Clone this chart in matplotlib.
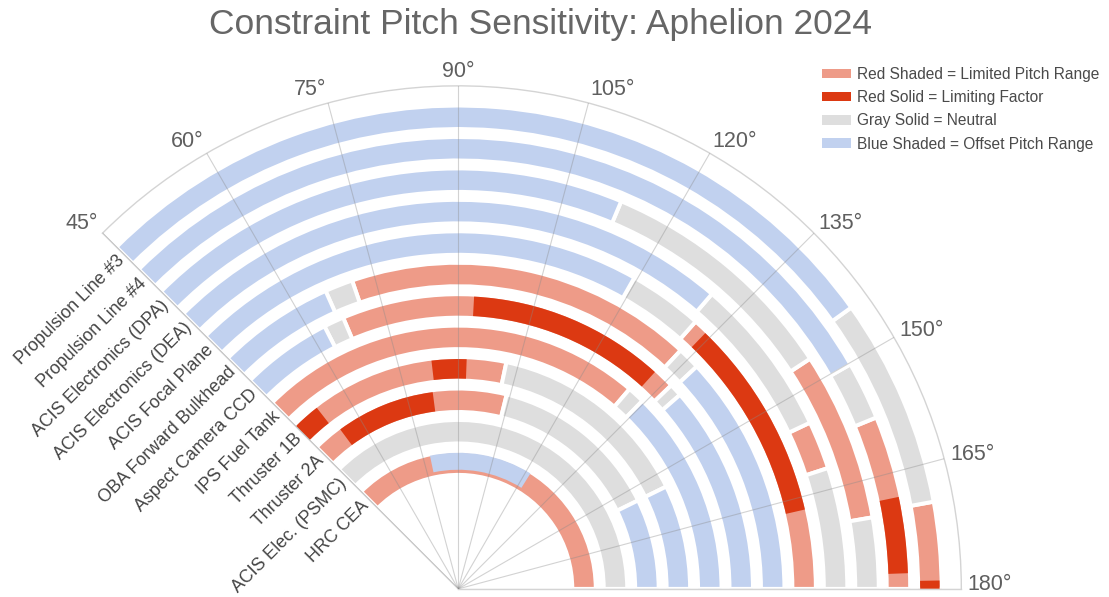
"""Constraint pitch sensitivity chart (Aphelion 2024), polar bar version."""

import numpy as np
import matplotlib
matplotlib.use("Agg")
from matplotlib import pyplot as plt
from matplotlib.patches import Patch
from matplotlib.transforms import offset_copy

plt.rcParams["font.family"] = ["Liberation Sans", "DejaVu Sans"]

# components, innermost ring first
COMPONENTS = [
    "HRC CEA",
    "ACIS Elec. (PSMC)",
    "Thruster 2A",
    "Thruster 1B",
    "IPS Fuel Tank",
    "Aspect Camera CCD",
    "OBA Forward Bulkhead",
    "ACIS Focal Plane",
    "ACIS Electronics (DEA)",
    "ACIS Electronics (DPA)",
    "Propulsion Line #4",
    "Propulsion Line #3",
]

# (component, pitch start, pitch end) in degrees
RED_SHADED = [
    ("HRC CEA", 45, 180),
    ("Thruster 2A", 45, 104),
    ("Thruster 1B", 45, 102),
    ("IPS Fuel Tank", 45, 130.6),
    ("Aspect Camera CCD", 67, 136.3),
    ("OBA Forward Bulkhead", 71, 133),
    ("ACIS Focal Plane", 131.6, 180),
    ("ACIS Electronics (DEA)", 154.7, 161.9),
    ("ACIS Electronics (DPA)", 146.8, 170.2),
    ("Propulsion Line #4", 157.7, 180),
    ("Propulsion Line #3", 169.6, 180),
]
RED_SOLID = [
    ("Thruster 2A", 53.5, 82.6),
    ("Thruster 1B", 45, 52),
    ("Thruster 1B", 83.3, 92.1),
    ("Aspect Camera CCD", 93.1, 132.2),
    ("ACIS Focal Plane", 134, 167.1),
    ("Propulsion Line #4", 168.2, 178),
    ("Propulsion Line #3", 179, 180),
]
GRAY_SOLID = [
    ("ACIS Elec. (PSMC)", 45, 180),
    ("Thruster 2A", 104, 153.8),
    ("Thruster 1B", 102, 153.8),
    ("IPS Fuel Tank", 130.6, 134.4),
    ("Aspect Camera CCD", 63, 67),
    ("Aspect Camera CCD", 136.3, 138.8),
    ("OBA Forward Bulkhead", 66, 71),
    ("OBA Forward Bulkhead", 133, 137),
    ("ACIS Focal Plane", 119.5, 131.6),
    ("ACIS Electronics (DEA)", 130.7, 154.7),
    ("ACIS Electronics (DEA)", 161.9, 180),
    ("ACIS Electronics (DPA)", 112.8, 146.8),
    ("ACIS Electronics (DPA)", 170.2, 180),
    ("Propulsion Line #4", 150.2, 157.7),
    ("Propulsion Line #3", 144.4, 169.6),
]
BLUE_SHADED = [
    ("Thruster 2A", 153.8, 180),
    ("Thruster 1B", 153.8, 180),
    ("IPS Fuel Tank", 134.4, 180),
    ("Aspect Camera CCD", 45, 63),
    ("Aspect Camera CCD", 138.8, 180),
    ("OBA Forward Bulkhead", 45, 66),
    ("OBA Forward Bulkhead", 137, 180),
    ("ACIS Focal Plane", 45, 119.5),
    ("ACIS Electronics (DEA)", 45, 130.7),
    ("ACIS Electronics (DPA)", 45, 112.8),
    ("Propulsion Line #4", 45, 150.2),
    ("Propulsion Line #3", 45, 144.4),
]
BLUE_OFFSET = [
    ("HRC CEA", 78, 122),
]

THETA_TICKS = [45, 60, 75, 90, 105, 120, 135, 150, 165, 180]

LEGEND_LABELS = [
    "Red Shaded = Limited Pitch Range",
    "Red Solid = Limiting Factor",
    "Gray Solid = Neutral",
    "Blue Shaded = Offset Pitch Range",
]

COLORS = {
    "red_shaded": "#ee9b88",
    "red_solid": "#dc3912",
    "gray": "#dedede",
    "blue": "#c1d1ef",
}

RING_OFFSET = 4      # empty space in the middle, in ring units
RING_WIDTH = 0.62    # visible ring thickness
EDGE_PX = 4          # white gap between neighbouring segments
R_MAX = 16


def ring_of(name):
    return RING_OFFSET + COMPONENTS.index(name)


def draw_segments(ax, segments, color, base=True):
    """Draw pitch ranges as polar bars on the rings of their components."""
    r = np.array([ring_of(s[0]) for s in segments], dtype=float)
    start = np.deg2rad([s[1] for s in segments])
    end = np.deg2rad([s[2] for s in segments])
    if base:
        # white edge eats half the line width on every side
        pad = EDGE_PX / 31.4
        height = RING_WIDTH + pad
        ax.bar(
            x=(start + end) / 2, height=height, width=end - start,
            bottom=r - height / 2, color=color, edgecolor="white",
            linewidth=EDGE_PX * 72 / 100, zorder=1,
        )
    else:
        ax.bar(
            x=(start + end) / 2, height=RING_WIDTH, width=end - start,
            bottom=r - RING_WIDTH / 2, color=color, linewidth=0, zorder=1.5,
        )


def main():
    fig = plt.figure(figsize=(11.09, 5.97), dpi=100)
    # polar axes keep a square box; the wedge sits centred in it, so the
    # box runs past the top and bottom of the figure
    ax = fig.add_axes([0.0924, -0.2762, 0.7745, 1.4385], projection="polar")
    ax.set_theta_zero_location("W")
    ax.set_theta_direction(-1)
    ax.set_thetamin(45)
    ax.set_thetamax(180)
    ax.set_ylim(0, R_MAX)

    draw_segments(ax, RED_SHADED, COLORS["red_shaded"])
    draw_segments(ax, GRAY_SOLID, COLORS["gray"])
    draw_segments(ax, BLUE_SHADED, COLORS["blue"])
    draw_segments(ax, RED_SOLID, COLORS["red_solid"], base=False)

    # offset range on HRC CEA sits on top of the red ring, shifted outward
    for name, a, b in BLUE_OFFSET:
        t0, t1 = np.deg2rad(a), np.deg2rad(b)
        r = ring_of(name)
        ax.bar(
            x=(t0 + t1) / 2, height=0.54, width=t1 - t0, bottom=r - 0.21,
            color=COLORS["blue"], linewidth=0, zorder=1.6,
        )

    ax.set_axisbelow(False)
    ax.set_xticks(np.deg2rad(THETA_TICKS))
    ax.xaxis.set_tick_params(labelbottom=False, size=0)
    ax.xaxis.grid(True, color="#8a8a8a", alpha=0.38, linewidth=0.8)
    ax.yaxis.grid(False)
    ax.set_yticks([])
    for side in ["polar", "start", "end"]:
        ax.spines[side].set_color("#d4d4d4")
        ax.spines[side].set_linewidth(1.0)
    ax.spines["inner"].set_visible(False)

    # angle labels: anchored just outside the arc, aligned away from it
    for t in THETA_TICKS:
        ang = np.deg2rad(180 - t)
        c, s = np.cos(ang), np.sin(ang)
        ha = "center" if abs(c) < 1e-6 else ("left" if c > 0 else "right")
        dy = max(14 * s, 4)
        shift = offset_copy(ax.transData, fig=fig, x=6 * c, y=dy, units="dots")
        ax.text(
            np.deg2rad(t), R_MAX, f"{t}°", transform=shift, ha=ha,
            va="center", fontsize=15.5, color="#5f5f5f",
        )

    shift = offset_copy(ax.transData, fig=fig, x=-3, y=-3, units="dots")
    for i, name in enumerate(COMPONENTS):
        ax.text(
            np.deg2rad(45), RING_OFFSET + i, name, transform=shift,
            rotation=45, rotation_mode="anchor", ha="right", va="center",
            fontsize=12.8, color="#444444",
        )

    fig.text(
        0.487, 0.959, "Constraint Pitch Sensitivity: Aphelion 2024",
        ha="center", va="center", fontsize=25.5, color="#666666",
    )

    handles = [
        Patch(facecolor=COLORS["red_shaded"]),
        Patch(facecolor=COLORS["red_solid"]),
        Patch(facecolor=COLORS["gray"]),
        Patch(facecolor=COLORS["blue"]),
    ]
    fig.legend(
        handles, LEGEND_LABELS, loc="upper left", bbox_to_anchor=(0.741, 0.888),
        frameon=False, fontsize=11.2, handlelength=1.9, handleheight=0.55,
        handletextpad=0.35, labelspacing=0.53, borderpad=0, borderaxespad=0,
        labelcolor="#4a4a4a",
    )

    fig.savefig("out.png", dpi=100)


if __name__ == "__main__":
    main()
